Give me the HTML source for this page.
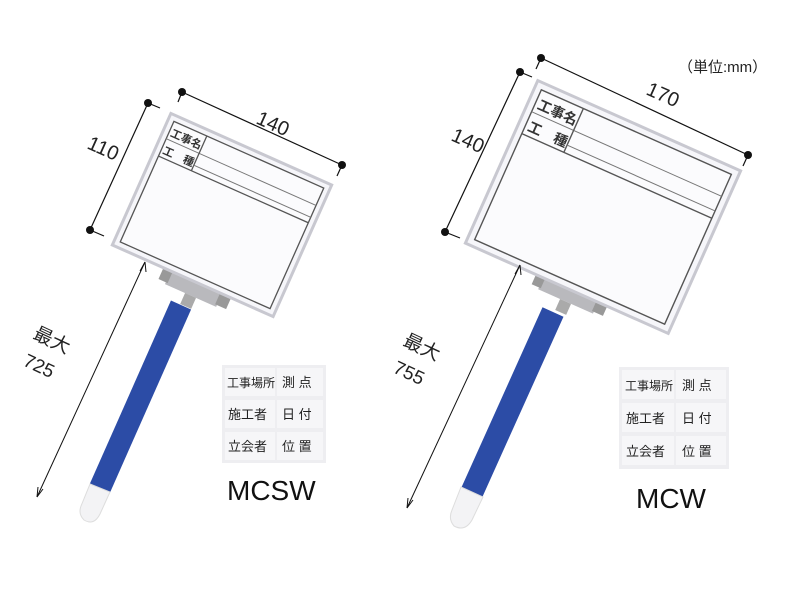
<!DOCTYPE html>
<html><head><meta charset="utf-8"><style>
body{margin:0;background:#fff;width:800px;height:600px;overflow:hidden}
svg text{font-family:"Liberation Sans","Noto Sans CJK JP",sans-serif}
</style></head><body>
<svg width="800" height="600" viewBox="0 0 800 600" xmlns="http://www.w3.org/2000/svg">
<!-- LEFT -->
<line x1="181" y1="305" x2="100" y2="488" stroke="#2c4ca6" stroke-width="22"/>
<path d="M90 484 L110 492 L100 514 Q94 526 84 520 Q78 514 81 506 Z" fill="#f3f3f5" stroke="#ddd"/>
<g transform="translate(193,290) rotate(24)">
<rect x="-28" y="-14" width="56" height="20" fill="#b9b9bd"/>
<rect x="-36" y="-8" width="10" height="12" fill="#999"/>
<rect x="26" y="-8" width="12" height="12" fill="#999"/>
<rect x="-6" y="6" width="12" height="12" fill="#aaa"/>
</g>
<g transform="translate(222,215) rotate(24)">
<rect x="-88" y="-72" width="176" height="144" fill="#f6f6fa" stroke="#c8c8d0" stroke-width="3"/>
<rect x="-82" y="-66" width="164" height="132" fill="#fbfbfd" stroke="#555" stroke-width="1.3"/>
<line x1="-82" y1="-28" x2="82" y2="-28" stroke="#555" stroke-width="1.3"/>
<line x1="-82" y1="-47" x2="82" y2="-47" stroke="#777" stroke-width="1"/>
<line x1="-46" y1="-66" x2="-46" y2="-28" stroke="#555" stroke-width="1.3"/>
<line x1="-46" y1="-34" x2="82" y2="-34" stroke="#777" stroke-width="1"/>
<text x="-80" y="-51" font-size="11" font-weight="bold" fill="#333">工事名</text>
<text x="-80" y="-32" font-size="11" font-weight="bold" fill="#333">工　種</text>
</g>
<g stroke="#111" stroke-width="1.2">
<line x1="148" y1="103" x2="90" y2="230"/>
<line x1="182" y1="92" x2="342" y2="165"/>
<line x1="148" y1="103" x2="160" y2="108"/>
<line x1="90" y1="230" x2="104" y2="236"/>
<line x1="182" y1="92" x2="178" y2="102"/>
<line x1="342" y1="165" x2="337" y2="176"/>
<line x1="145" y1="262" x2="37" y2="497" stroke-width="1"/>
</g>
<path d="M145 262 L140 271 M145 262 L146 272 M37 497 L38 487 M37 497 L43 489" stroke="#111" stroke-width="1" fill="none"/>
<g fill="#111"><circle cx="148" cy="103" r="4"/><circle cx="90" cy="230" r="4"/><circle cx="182" cy="92" r="4"/><circle cx="342" cy="165" r="4"/></g>
<text x="0" y="0" font-size="20" fill="#222" transform="translate(255,123) rotate(24)">140</text>
<text x="0" y="0" font-size="20" fill="#222" transform="translate(86,148) rotate(24)">110</text>
<text x="0" y="0" font-size="19" fill="#222" transform="translate(32,338) rotate(25)">最大</text>
<text x="0" y="0" font-size="19" fill="#222" transform="translate(22,365) rotate(25)">725</text>
<g font-size="13" fill="#222">
<rect x="222" y="365" width="104" height="98" fill="#eeeef1"/>
<rect x="225" y="368" width="50" height="28" fill="#f6f6f8"/><rect x="277" y="368" width="46" height="28" fill="#f6f6f8"/>
<rect x="225" y="400" width="50" height="28" fill="#f6f6f8"/><rect x="277" y="400" width="46" height="28" fill="#f6f6f8"/>
<rect x="225" y="432" width="50" height="28" fill="#f6f6f8"/><rect x="277" y="432" width="46" height="28" fill="#f6f6f8"/>
<text x="227" y="387" font-size="12">工事場所</text><text x="282" y="387">測 点</text>
<text x="228" y="419">施工者</text><text x="282" y="419">日 付</text>
<text x="228" y="451">立会者</text><text x="282" y="451">位 置</text>
</g>
<text x="227" y="500" font-size="28" fill="#111">MCSW</text>

<!-- RIGHT -->
<line x1="553" y1="312" x2="472" y2="492" stroke="#2c4ca6" stroke-width="23"/>
<path d="M461 487 L483 497 L472 520 Q465 532 454 526 Q448 519 452 510 Z" fill="#f3f3f5" stroke="#ddd"/>
<g transform="translate(568,296) rotate(24)">
<rect x="-30" y="-14" width="60" height="20" fill="#b9b9bd"/>
<rect x="-38" y="-8" width="10" height="12" fill="#999"/>
<rect x="28" y="-8" width="12" height="12" fill="#999"/>
<rect x="-6" y="6" width="12" height="12" fill="#aaa"/>
</g>
<g transform="translate(603,207) rotate(24)">
<rect x="-111" y="-89" width="222" height="178" fill="#f6f6fa" stroke="#c8c8d0" stroke-width="3"/>
<rect x="-104" y="-82" width="208" height="164" fill="#fbfbfd" stroke="#555" stroke-width="1.4"/>
<line x1="-104" y1="-34" x2="104" y2="-34" stroke="#555" stroke-width="1.4"/>
<line x1="-104" y1="-58" x2="104" y2="-58" stroke="#777" stroke-width="1"/>
<line x1="-58" y1="-82" x2="-58" y2="-34" stroke="#555" stroke-width="1.4"/>
<line x1="-58" y1="-42" x2="104" y2="-42" stroke="#777" stroke-width="1"/>
<text x="-101" y="-63" font-size="14" font-weight="bold" fill="#333">工事名</text>
<text x="-101" y="-39" font-size="14" font-weight="bold" fill="#333">工　種</text>
</g>
<g stroke="#111" stroke-width="1.2">
<line x1="520" y1="72" x2="445" y2="232"/>
<line x1="541" y1="58" x2="748" y2="155"/>
<line x1="520" y1="72" x2="532" y2="77"/>
<line x1="445" y1="232" x2="460" y2="238"/>
<line x1="541" y1="58" x2="536" y2="69"/>
<line x1="748" y1="155" x2="743" y2="166"/>
<line x1="520" y1="265" x2="407" y2="508" stroke-width="1"/>
</g>
<path d="M520 265 L515 274 M520 265 L521 275 M407 508 L408 498 M407 508 L413 500" stroke="#111" stroke-width="1" fill="none"/>
<g fill="#111"><circle cx="520" cy="72" r="4"/><circle cx="445" cy="232" r="4"/><circle cx="541" cy="58" r="4"/><circle cx="748" cy="155" r="4"/></g>
<text x="0" y="0" font-size="20" fill="#222" transform="translate(645,94) rotate(24)">170</text>
<text x="0" y="0" font-size="20" fill="#222" transform="translate(450,140) rotate(24)">140</text>
<text x="0" y="0" font-size="19" fill="#222" transform="translate(402,345) rotate(25)">最大</text>
<text x="0" y="0" font-size="19" fill="#222" transform="translate(392,372) rotate(25)">755</text>
<text x="678" y="72" font-size="15" fill="#222">（単位:mm）</text>
<g font-size="13" fill="#222">
<rect x="619" y="367" width="110" height="102" fill="#eeeef1"/>
<rect x="622" y="370" width="52" height="29" fill="#f6f6f8"/><rect x="676" y="370" width="50" height="29" fill="#f6f6f8"/>
<rect x="622" y="403" width="52" height="29" fill="#f6f6f8"/><rect x="676" y="403" width="50" height="29" fill="#f6f6f8"/>
<rect x="622" y="436" width="52" height="29" fill="#f6f6f8"/><rect x="676" y="436" width="50" height="29" fill="#f6f6f8"/>
<text x="625" y="390" font-size="12">工事場所</text><text x="682" y="390">測 点</text>
<text x="626" y="423">施工者</text><text x="682" y="423">日 付</text>
<text x="626" y="456">立会者</text><text x="682" y="456">位 置</text>
</g>
<text x="636" y="508" font-size="28" fill="#111">MCW</text>
</svg>
</body></html>
